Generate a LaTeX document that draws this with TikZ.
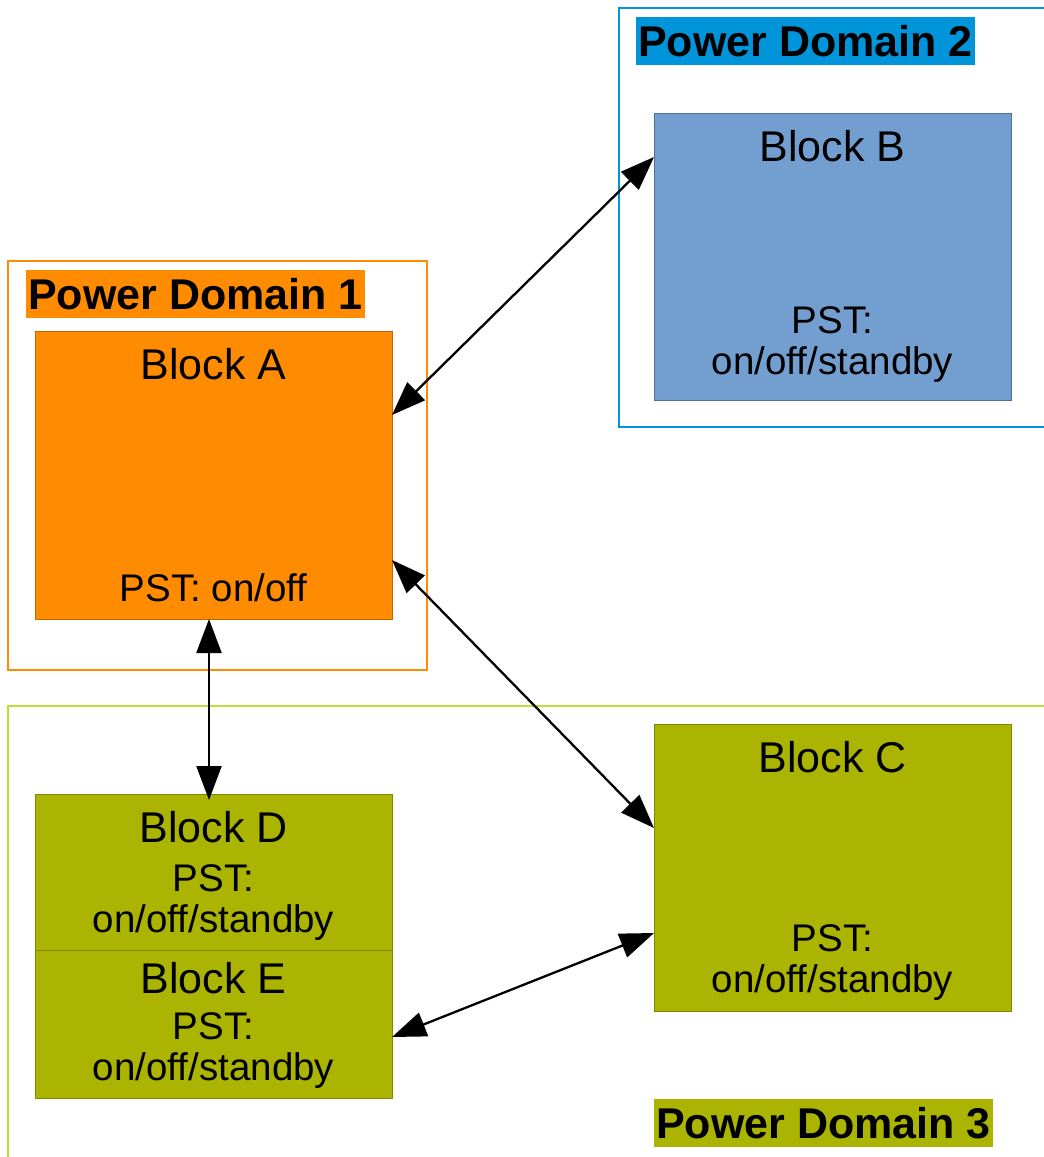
\documentclass[tikz,border=0pt]{standalone}
\usepackage{fontspec}
\setmainfont{Liberation Sans}
\usetikzlibrary{arrows.meta}
\definecolor{orangeA}{HTML}{FF8C00}
\definecolor{blueD}{HTML}{0095DA}
\definecolor{blueB}{HTML}{729FCF}
\definecolor{greenD}{HTML}{B8E234}
\definecolor{olive}{HTML}{ABB400}
\tikzset{
  block/.style={draw=#1!75!black, line width=0.6pt, fill=#1, minimum width=357pt, inner sep=0pt, outer sep=0pt},
  txt/.style={anchor=base, inner sep=0pt, font=\fontsize{38.5}{43}\selectfont},
  ttl/.style={anchor=base, inner sep=0pt, font=\fontsize{43}{48}\selectfont},
  pdlabel/.style={fill=#1, minimum width=339pt, minimum height=48pt, inner sep=0pt, font=\fontsize{43}{48}\selectfont\bfseries},
  domain/.style={draw=#1, line width=2.5pt},
  conn/.style={line width=2.3pt, {Triangle[length=34pt,width=25pt]}-{Triangle[length=34pt,width=25pt]}}
}
\begin{document}
\begin{tikzpicture}[x=1pt,y=-1pt]
\useasboundingbox (0,0) rectangle (1044,1157);
% domains
\node[domain=orangeA, minimum width=419pt, minimum height=409pt, inner sep=0pt] (PD1) at (217.5,465.5) {};
\draw[domain=blueD] (1048,8) -- (619,8) -- (619,427) -- (1048,427);
\draw[domain=greenD] (1048,706) -- (8,706) -- (8,1162);
% domain labels
\node[pdlabel=orangeA] (L1) at (195.5,294) {Power Domain 1};
\node[pdlabel=blueD] (L2) at (805.5,41) {Power Domain 2};
\node[pdlabel=olive] (L3) at (823.5,1123) {Power Domain 3};
% blocks
\node[block=orangeA, minimum height=288pt] (A) at (213.5,475) {};
\node[block=blueB, minimum height=287pt, draw=blueB!70!black] (B) at (832.5,256.5) {};
\node[block=olive, minimum height=287pt] (C) at (832.5,867.5) {};
\node[block=olive, minimum height=156pt] (D) at (213.5,872) {};
\node[block=olive, minimum height=148pt] (E) at (213.5,1024) {};
% texts
\node[ttl] (At) at (213.5,379) {Block A};
\node[txt] (Ap) at (213.5,601) {PST: on/off};
\node[ttl] (Bt) at (832.5,161) {Block B};
\node[txt] (Bp) at (832.5,333) {PST:};
\node[txt] (Bs) at (832.5,374) {on/off/standby};
\node[ttl] (Ct) at (832.5,772) {Block C};
\node[txt] (Cp) at (832.5,951) {PST:};
\node[txt] (Cs) at (832.5,992) {on/off/standby};
\node[ttl] (Dt) at (213.5,842) {Block D};
\node[txt] (Dp) at (213.5,891) {PST:};
\node[txt] (Ds) at (213.5,932) {on/off/standby};
\node[ttl] (Et) at (213.5,993) {Block E};
\node[txt] (Ep) at (213.5,1039) {PST:};
\node[txt] (Es) at (213.5,1080) {on/off/standby};
% connectors
\draw[conn] ([yshift=60pt]A.east) -- ([yshift=99.5pt]B.west);
\draw[conn] ([yshift=-85pt]A.east) -- ([yshift=39.5pt]C.west);
\draw[conn] ([xshift=-4.5pt]A.south) -- ([xshift=-4.5pt,yshift=-6pt]D.north);
\draw[conn] ([yshift=-13pt]E.east) -- ([yshift=-65.5pt]C.west);
\end{tikzpicture}
\end{document}
